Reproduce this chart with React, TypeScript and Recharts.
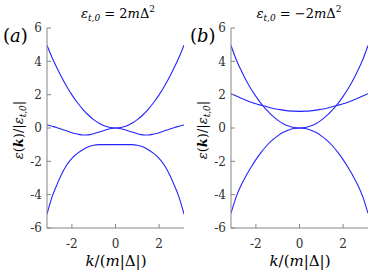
import React from 'react';
import { LineChart, Line, XAxis, YAxis } from 'recharts';

// k/(m|Δ|) sample positions
const kValues = [-3.1416, -2.9, -2.7, -2.5, -2.25, -2, -1.75, -1.5, -1.25, -1, -0.75, -0.5, -0.25, 0,
  0.25, 0.5, 0.75, 1, 1.25, 1.5, 1.75, 2, 2.25, 2.5, 2.7, 2.9, 3.1416];

// panel (a): eps_t0 = 2 m Delta^2
const aUpper = [4.97, 4.2, 3.64, 3.12, 2.52, 1.99, 1.53, 1.12, 0.78, 0.5, 0.28, 0.12, 0.03, 0,
  0.03, 0.12, 0.28, 0.5, 0.78, 1.12, 1.53, 1.99, 2.52, 3.12, 3.64, 4.2, 4.97];
const aMiddle = [0.18, 0.1, 0.03, -0.06, -0.17, -0.28, -0.36, -0.42, -0.41, -0.34, -0.24, -0.13, -0.04, 0,
  -0.04, -0.13, -0.24, -0.34, -0.41, -0.42, -0.36, -0.28, -0.17, -0.06, 0.03, 0.1, 0.18];
const aLower = [-5.16, -4.1, -3.45, -2.85, -2.25, -1.82, -1.52, -1.3, -1.12, -1.03, -1.0, -1.0, -1.0, -1.0,
  -1.0, -1.0, -1.0, -1.03, -1.12, -1.3, -1.52, -1.82, -2.25, -2.85, -3.45, -4.1, -5.16];

// panel (b): eps_t0 = -2 m Delta^2
const bUpper = [4.95, 4.1, 3.52, 2.98, 2.4, 1.9, 1.45, 1.07, 0.74, 0.47, 0.26, 0.12, 0.03, 0,
  0.03, 0.12, 0.26, 0.47, 0.74, 1.07, 1.45, 1.9, 2.4, 2.98, 3.52, 4.1, 4.95];
const bMiddle = [2.06, 1.92, 1.8, 1.69, 1.56, 1.45, 1.36, 1.27, 1.19, 1.12, 1.07, 1.03, 1.01, 1.0,
  1.01, 1.03, 1.07, 1.12, 1.19, 1.27, 1.36, 1.45, 1.56, 1.69, 1.8, 1.92, 2.06];
const bLower = [-5.12, -4.12, -3.5, -2.98, -2.42, -1.9, -1.45, -1.05, -0.73, -0.47, -0.26, -0.12, -0.03, 0,
  -0.03, -0.12, -0.26, -0.47, -0.73, -1.05, -1.45, -1.9, -2.42, -2.98, -3.5, -4.12, -5.12];

const xTicks = [-2, 0, 2];
const yTicks = [-6, -4, -2, 0, 2, 4, 6];

const axisColor = '#858585';
const lineColor = '#2525ff';
const serif = 'DejaVu Serif';
const tickStyle = { fill: '#303030', fontSize: 12, fontFamily: serif, style: { fontFamily: serif } };

function Panel({ left, upper, middle, lower, ml, mr }: any) {
  const data = kValues.map((k, i) => ({ k, upper: upper[i], middle: middle[i], lower: lower[i] }));
  const dom: [number, number] = [-Math.PI, Math.PI];
  return (
    <div style={{ position: 'absolute', left, top: 0 }}>
      <LineChart width={187} height={274} data={data} margin={{ top: 28, right: mr, bottom: 16, left: ml }}>
        <XAxis xAxisId="b" dataKey="k" type="number" domain={dom} ticks={xTicks} allowDataOverflow
          height={30} tickSize={-4} tickMargin={15} stroke={axisColor} tick={tickStyle} />
        <XAxis xAxisId="t" orientation="top" dataKey="k" type="number" domain={dom} ticks={xTicks} allowDataOverflow
          height={0} mirror tickSize={4} stroke={axisColor} tickFormatter={() => ''} />
        <YAxis yAxisId="l" type="number" domain={[-6, 6]} ticks={yTicks} width={40}
          tickSize={-4} tickMargin={9} stroke={axisColor} tick={tickStyle} />
        <YAxis yAxisId="r" orientation="right" type="number" domain={[-6, 6]} ticks={yTicks} width={0}
          mirror tickSize={4} stroke={axisColor} tickFormatter={() => ''} />
        <Line xAxisId="b" yAxisId="l" dataKey="upper" type="monotone" stroke={lineColor} strokeWidth={1.1} dot={false} isAnimationActive={false} />
        <Line xAxisId="b" yAxisId="l" dataKey="middle" type="monotone" stroke={lineColor} strokeWidth={1.1} dot={false} isAnimationActive={false} />
        <Line xAxisId="b" yAxisId="l" dataKey="lower" type="monotone" stroke={lineColor} strokeWidth={1.1} dot={false} isAnimationActive={false} />
      </LineChart>
    </div>
  );
}

function YLabel({ x }: { x: number }) {
  return (
    <text transform={`translate(${x},130) rotate(-90)`} textAnchor="middle" fontSize={13}>
      <tspan fontStyle="italic">ε</tspan>(<tspan fontStyle="italic" fontWeight="bold">k</tspan>)/|
      <tspan fontStyle="italic">ε</tspan><tspan fontSize={9} dy={3} fontStyle="italic">t,0</tspan><tspan dy={-3}>|</tspan>
    </text>
  );
}

function Title({ x, sign }: { x: number; sign: string }) {
  return (
    <text x={x} y={18} textAnchor="middle" fontSize={13}>
      <tspan fontStyle="italic">ε</tspan><tspan fontSize={9} dy={3} fontStyle="italic">t,0</tspan>
      <tspan dy={-3}>{` = ${sign}2`}</tspan><tspan fontStyle="italic">m</tspan>Δ<tspan fontSize={9} dy={-6}>2</tspan>
    </text>
  );
}

function XLabel({ x }: { x: number }) {
  return (
    <text x={x} y={266} textAnchor="middle" fontSize={15}>
      <tspan fontStyle="italic">k</tspan>/(<tspan fontStyle="italic">m</tspan>|Δ|)
    </text>
  );
}

export default function App() {
  return (
    <div style={{ position: 'absolute', left: 0, top: 0, width: 374, height: 274, background: '#fff', fontFamily: serif }}>
      <Panel left={0} upper={aUpper} middle={aMiddle} lower={aLower} ml={7} mr={3} />
      <Panel left={187} upper={bUpper} middle={bMiddle} lower={bLower} ml={4} mr={6} />
      <svg width={374} height={274} style={{ position: 'absolute', left: 0, top: 0, pointerEvents: 'none', fontFamily: serif }}
        fill="#000">
        <Title x={118} sign="" />
        <Title x={299} sign="−" />
        <text x={3} y={42} fontSize={18}>(<tspan fontStyle="italic">a</tspan>)</text>
        <text x={190} y={42} fontSize={18}>(<tspan fontStyle="italic">b</tspan>)</text>
        <YLabel x={23} />
        <YLabel x={207} />
        <XLabel x={116} />
        <XLabel x={300} />
      </svg>
    </div>
  );
}
